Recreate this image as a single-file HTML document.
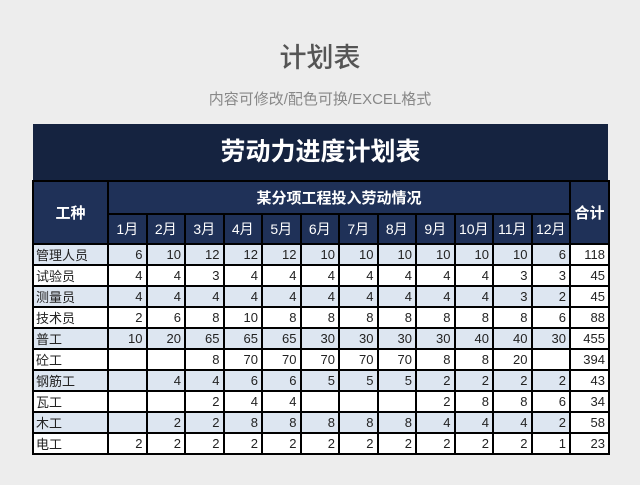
<!DOCTYPE html>
<html><head><meta charset="utf-8"><style>
body{margin:0;width:640px;height:485px;background:#ededed;font-family:"Liberation Sans","Noto Sans CJK SC",sans-serif;position:relative;overflow:hidden}
.t1{position:absolute;top:36px;left:0;width:640px;text-align:center;font-size:27px;color:#555;font-weight:500}
.t2{position:absolute;top:88px;left:0;width:640px;text-align:center;font-size:15px;color:#888}
.band{position:absolute;left:33px;top:124px;width:575px;height:57px;background:#152340;color:#fff;font-size:25px;font-weight:bold;text-align:center;line-height:57px}
table{position:absolute;left:32px;top:180px;border-collapse:collapse;table-layout:fixed;font-size:13px}
td{border:2px solid #000;padding:0 3px;height:17px;text-align:right;color:#222}
th{border:2px solid #000;background:#1f3158;color:#fff;font-weight:normal;font-size:14px;padding:0}
th.b{font-weight:bold;font-size:15px}
td.n{text-align:left;padding-left:2px}
tr.o td{background:#dde6f1}
tr td.tot{background:#fff}
tr.e td{background:#fff}
</style></head><body>
<div class="t1">计划表</div>
<div class="t2">内容可修改/配色可换/EXCEL格式</div>
<div class="band">劳动力进度计划表</div>
<table>
<colgroup><col style="width:75px"><col style="width:38.5px"><col style="width:38.5px"><col style="width:38.5px"><col style="width:38.5px"><col style="width:38.5px"><col style="width:38.5px"><col style="width:38.5px"><col style="width:38.5px"><col style="width:38.5px"><col style="width:38.5px"><col style="width:38.5px"><col style="width:38.5px"><col style="width:39px"></colgroup>
<tr style="height:33px"><th class="b" rowspan="2">工种</th><th class="b" colspan="12">某分项工程投入劳动情况</th><th class="b" rowspan="2">合计</th></tr>
<tr style="height:30px"><th>1月</th><th>2月</th><th>3月</th><th>4月</th><th>5月</th><th>6月</th><th>7月</th><th>8月</th><th>9月</th><th>10月</th><th>11月</th><th>12月</th></tr>
<tr class="o"><td class="n">管理人员</td><td>6</td><td>10</td><td>12</td><td>12</td><td>12</td><td>10</td><td>10</td><td>10</td><td>10</td><td>10</td><td>10</td><td>6</td><td class="tot">118</td></tr>
<tr class="e"><td class="n">试验员</td><td>4</td><td>4</td><td>3</td><td>4</td><td>4</td><td>4</td><td>4</td><td>4</td><td>4</td><td>4</td><td>3</td><td>3</td><td class="tot">45</td></tr>
<tr class="o"><td class="n">测量员</td><td>4</td><td>4</td><td>4</td><td>4</td><td>4</td><td>4</td><td>4</td><td>4</td><td>4</td><td>4</td><td>3</td><td>2</td><td class="tot">45</td></tr>
<tr class="e"><td class="n">技术员</td><td>2</td><td>6</td><td>8</td><td>10</td><td>8</td><td>8</td><td>8</td><td>8</td><td>8</td><td>8</td><td>8</td><td>6</td><td class="tot">88</td></tr>
<tr class="o"><td class="n">普工</td><td>10</td><td>20</td><td>65</td><td>65</td><td>65</td><td>30</td><td>30</td><td>30</td><td>30</td><td>40</td><td>40</td><td>30</td><td class="tot">455</td></tr>
<tr class="e"><td class="n">砼工</td><td></td><td></td><td>8</td><td>70</td><td>70</td><td>70</td><td>70</td><td>70</td><td>8</td><td>8</td><td>20</td><td></td><td class="tot">394</td></tr>
<tr class="o"><td class="n">钢筋工</td><td></td><td>4</td><td>4</td><td>6</td><td>6</td><td>5</td><td>5</td><td>5</td><td>2</td><td>2</td><td>2</td><td>2</td><td class="tot">43</td></tr>
<tr class="e"><td class="n">瓦工</td><td></td><td></td><td>2</td><td>4</td><td>4</td><td></td><td></td><td></td><td>2</td><td>8</td><td>8</td><td>6</td><td class="tot">34</td></tr>
<tr class="o"><td class="n">木工</td><td></td><td>2</td><td>2</td><td>8</td><td>8</td><td>8</td><td>8</td><td>8</td><td>4</td><td>4</td><td>4</td><td>2</td><td class="tot">58</td></tr>
<tr class="e"><td class="n">电工</td><td>2</td><td>2</td><td>2</td><td>2</td><td>2</td><td>2</td><td>2</td><td>2</td><td>2</td><td>2</td><td>2</td><td>1</td><td class="tot">23</td></tr>
</table>
</body></html>
